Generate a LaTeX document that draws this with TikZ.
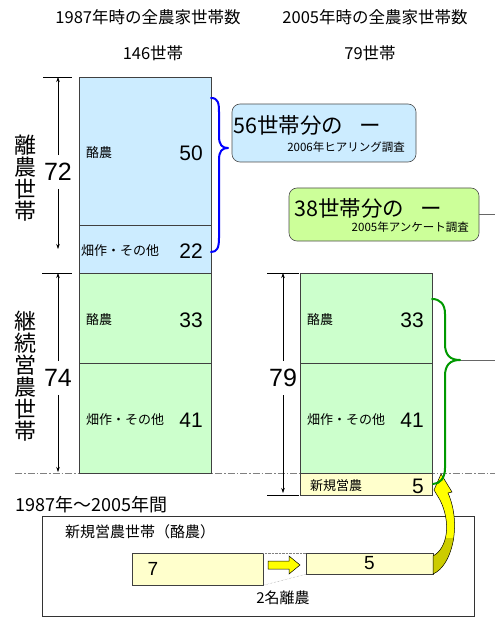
\documentclass[tikz,border=0pt]{standalone}
\usepackage{fontspec}
\setmainfont{Noto Sans CJK JP}
\newfontfamily\numfont{Liberation Sans}
\usepackage{tikz}
\usetikzlibrary{calc,arrows.meta}
\definecolor{paleblue}{HTML}{CCECFF}
\definecolor{palegreen}{HTML}{CCFFCC}
\definecolor{limegreen}{HTML}{CCFF99}
\definecolor{cream}{HTML}{FFFFCC}
\definecolor{braceblue}{HTML}{0000FF}
\definecolor{bracegreen}{HTML}{009900}
\definecolor{arrowyellow}{HTML}{FFFF00}
\definecolor{olivearrow}{HTML}{CCCC00}
\newcommand{\fsz}[1]{\fontsize{#1}{#1}\selectfont}
\tikzset{
  cell/.style={draw=black!75, line width=0.6pt},
  dim/.style={draw=black, line width=0.5pt},
  dimarr/.style={dim, -{Stealth[length=5pt,width=3.5pt]}},
  head/.style={font=\fsz{16.5}},
  side/.style={font=\fsz{22}, align=center, inner sep=0pt},
  total/.style={font=\numfont\fsz{25}, inner xsep=1pt, inner ysep=8pt},
  cat/.style={anchor=west, font=\fsz{13}, inner sep=0pt},
  num/.style={anchor=east, font=\numfont\fsz{21}, inner sep=0pt},
  callout/.style={draw=black!70, line width=0.6pt, rounded corners=8pt},
  callbig/.style={anchor=west, font=\fsz{21.5}, inner sep=0pt},
  callsmall/.style={anchor=east, font=\fsz{11.5}, inner sep=0pt},
  brace/.style={line width=2pt, line cap=round, line join=round},
  ybox/.style={draw=black!75, fill=cream, line width=0.6pt, inner sep=0pt},
  lead/.style={draw=black!60, line width=0.6pt},
}

\begin{document}
\begin{tikzpicture}[x=1pt,y=-1pt]
  \useasboundingbox (0,0) rectangle (495,617);
  % headers
  \node[head] (h87) at (148,17) {1987年時の全農家世帯数};
  \node[head] (n87) at (153,53) {146世帯};
  \node[head] (h05) at (375,17) {2005年時の全農家世帯数};
  \node[head] (n05) at (370,53) {79世帯};
  % dash-dot base line
  \draw[gray, line width=0.8pt, dash pattern=on 7pt off 2pt on 1.5pt off 2pt] (15,473) -- (495,473);
  % bars
  \foreach \xl/\yt/\yb/\col/\dx/\cat/\num [count=\i] in {
      79/77/225/paleblue/7/酪農/50,
      79/225/273/paleblue/2/畑作・その他/22,
      79/273/363/palegreen/7/酪農/33,
      79/363/473/palegreen/7/畑作・その他/41,
      300/273/363/palegreen/7/酪農/33,
      300/363/473/palegreen/7/畑作・その他/41,
      300/473/495/cream/10/新規営農/5}{
    \draw[cell, fill=\col] (\xl,\yt) rectangle (\xl+132,\yb);
    \node[cat] (cat\i) at (\xl+\dx,{(\yt+\yb)/2+2}) {\cat};
    \node[num] (num\i) at (\xl+124,{(\yt+\yb)/2+2}) {\num};
  }
  % side labels
  \node[side] (leave) at (25,178.5) {離\\農\\世\\帯};
  \node[side] (keep) at (25,376) {継\\続\\営\\農\\世\\帯};
  % dimension lines
  \draw[dim] (43,77) -- (72,77) (42,273) -- (72,273);
  \draw[dim] (267,273) -- (299,273) (267,495) -- (299,495);
  \node[total] (t72) at (58,172) {72};
  \node[total] (t74) at (58,378) {74};
  \node[total] (t79) at (283,378) {79};
  \coordinate (d72t) at (58,77);
  \coordinate (d72b) at (58,249);
  \coordinate (d74t) at (58,273);
  \coordinate (d74b) at (58,472);
  \coordinate (d79t) at (283,273);
  \coordinate (d79b) at (283,493);
  \foreach \n in {72,74,79}{
    \draw[dimarr] (t\n) -- (d\n t);
    \draw[dimarr] (t\n) -- (d\n b);
  }
  % callouts
  \node[callout, fill=paleblue, minimum width=184, minimum height=58] (call06) at (324,133) {};
  \node[callbig] (big06) at (233,125) {56世帯分の\hspace{16pt}ー};
  \node[callsmall] (src06) at (405,147) {2006年ヒアリング調査};
  \node[callout, fill=limegreen, minimum width=190, minimum height=53] (call05) at (384,214.5) {};
  \node[callbig] (big05) at (294,208) {38世帯分の\hspace{16pt}ー};
  \node[callsmall] (src05) at (469,227) {2005年アンケート調査};
  \coordinate (out05) at (495,214.5);
  \draw[lead] (call05.east) -- (out05);
  % braces
  \draw[brace, braceblue] (211,98) .. controls (218,98) and (219,103) .. (219,112) -- (219,136)
    .. controls (219,145) and (222,148) .. (228,148) .. controls (222,148) and (219,151) .. (219,160)
    -- (219,238) .. controls (219,248) and (217,252) .. (211,252);
  \coordinate (gtip) at (460,360);
  \coordinate (outg) at (495,360);
  \draw[lead] (gtip) -- (outg);
  % period box
  \node[anchor=west, font=\fsz{18}, inner sep=0pt] (period) at (15,505) {1987年～2005年間};
  \node[draw=black!80, line width=0.6pt, minimum width=432, minimum height=100, inner sep=0pt] (pbox) at (258,566) {};
  \node[anchor=west, font=\fsz{15}, inner sep=0pt] (newdairy) at (65,532) {新規営農世帯（酪農）};
  \node[ybox, minimum width=131, minimum height=32] (seven) at (197.5,569) {};
  \node[font=\numfont\fsz{19}] (t7) at (153,569) {7};
  \node[ybox, minimum width=127, minimum height=21, font=\numfont\fsz{19}] (five) at (369.5,563.5) {5};
  \draw[densely dotted, gray] (seven.north east) -- (five.north west);
  \draw[densely dotted, gray] (seven.south east) -- (five.south west);
  \draw[fill=arrowyellow, line width=0.5pt] (268,561) -- (289,561) -- (289,556) -- (300,565)
    -- (289,574) -- (289,569) -- (268,569) -- cycle;
  \node[font=\fsz{15}] (quit) at (283,598) {2名離農};
  % curved arrow up to the new farms
  \def\bend{(433,574) .. controls (452,566) and (462,525) .. (448,493) -- (452,492) -- (441,474)
    -- (434,490) -- (440,500) .. controls (451,522) and (448,548) .. (433,556) -- cycle}
  \fill[arrowyellow] \bend;
  \begin{scope}
    \clip (420,538) rectangle (470,580);
    \fill[olivearrow] \bend;
  \end{scope}
  \draw[line width=0.5pt] \bend;
  \draw[brace, bracegreen] (432,299) .. controls (440,299) and (445,304) .. (445,314) -- (445,344)
    .. controls (445,355) and (450,360) .. (460,360) .. controls (450,360) and (445,365) .. (445,376)
    -- (445,468) .. controls (445,478) and (440,484) .. (433,484);
\end{tikzpicture}
\end{document}
